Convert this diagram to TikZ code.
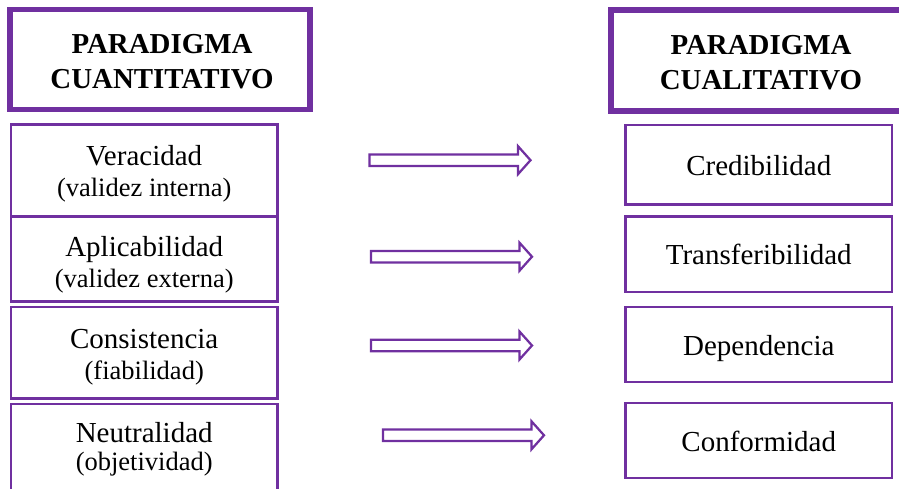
\documentclass[tikz,border=0pt]{standalone}
\usepackage{fontspec}
\setmainfont{Liberation Serif}
\definecolor{paradigm}{HTML}{7030A0}
\begin{document}
\begin{tikzpicture}[x=1pt,y=-1pt,
  headbox/.style={draw=paradigm, line width=5.5pt, minimum width=300pt, minimum height=100pt, inner sep=0pt},
  itembox/.style={draw=paradigm, line width=2.5pt, minimum width=266.5pt, inner sep=0pt},
  headtext/.style={font=\fontsize{28.9}{35}\selectfont\bfseries, anchor=base, inner sep=0pt},
  itemtext/.style={font=\fontsize{29}{31}\selectfont, anchor=base, inner sep=0pt},
  subtext/.style={font=\fontsize{26.5}{31}\selectfont, anchor=base, inner sep=0pt},
  blockarrow/.pic={\draw[paradigm, line width=2.25pt, line join=miter, fill=white]
      (0,-5.7) -- (148.5,-5.7) -- (148.5,-14) -- (161,0) -- (148.5,14) -- (148.5,5.7) -- (0,5.7) -- cycle;}
]
\useasboundingbox (0,0) rectangle (899,488);
\clip (0,0) rectangle (899,488);

% column headers
\node[headbox] (hq) at (160,59.7) {};
\node[headbox, minimum height=101pt] (hc) at (761,60.5) {};
\node[headtext] (hq1) at ([xshift=2pt]hq.center |- 0,53.5) {PARADIGMA};
\node[headtext] (hq2) at ([xshift=2pt]hq.center |- 0,88.5) {CUANTITATIVO};
\node[headtext] (hc1) at (hc.center |- 0,54.5) {PARADIGMA};
\node[headtext] (hc2) at (hc.center |- 0,89.5) {CUALITATIVO};

% quantitative criteria
\node[itembox, minimum height=92pt] (q1) at (144.2,170.5) {};
\node[itembox, minimum height=84.8pt] (q2) at (144.2,258.9) {};
\node[itembox, minimum height=91.9pt] (q3) at (144.2,352.75) {};
\node[itembox, minimum height=91pt] (q4) at (144.2,449.5) {};
\node[itemtext] (q1a) at (q1.center |- 0,165) {Veracidad};
\node[subtext]  (q1b) at (q1.center |- 0,196.5) {(validez interna)};
\node[itemtext] (q2a) at (q2.center |- 0,256.7) {Aplicabilidad};
\node[subtext]  (q2b) at (q2.center |- 0,287) {(validez externa)};
\node[itemtext] (q3a) at (q3.center |- 0,348.3) {Consistencia};
\node[subtext]  (q3b) at (q3.center |- 0,379.3) {(fiabilidad)};
\node[itemtext] (q4a) at (q4.center |- 0,442.7) {Neutralidad};
\node[subtext]  (q4b) at (q4.center |- 0,470.5) {(objetividad)};

% qualitative criteria
\node[itembox, minimum height=79.5pt] (c1) at (758.75,164.9) {};
\node[itembox, minimum height=75.5pt] (c2) at (758.75,254.25) {};
\node[itembox, minimum height=75pt] (c3) at (758.75,344.5) {};
\node[itembox, minimum height=75pt] (c4) at (758.75,440.5) {};
\node[itemtext] (c1a) at ([yshift=-10.5pt]c1.center) {Credibilidad};
\node[itemtext] (c2a) at ([yshift=-10.5pt]c2.center) {Transferibilidad};
\node[itemtext] (c3a) at ([yshift=-10.5pt]c3.center) {Dependencia};
\node[itemtext] (c4a) at ([yshift=-10.5pt]c4.center) {Conformidad};

% correspondence arrows
\coordinate (a1) at (369.5,160.2);
\coordinate (a2) at (371,256.7);
\coordinate (a3) at (371,345.5);
\coordinate (a4) at (383,435.3);
\pic at (a1) {blockarrow};
\pic at (a2) {blockarrow};
\pic at (a3) {blockarrow};
\pic at (a4) {blockarrow};
\end{tikzpicture}
\end{document}
